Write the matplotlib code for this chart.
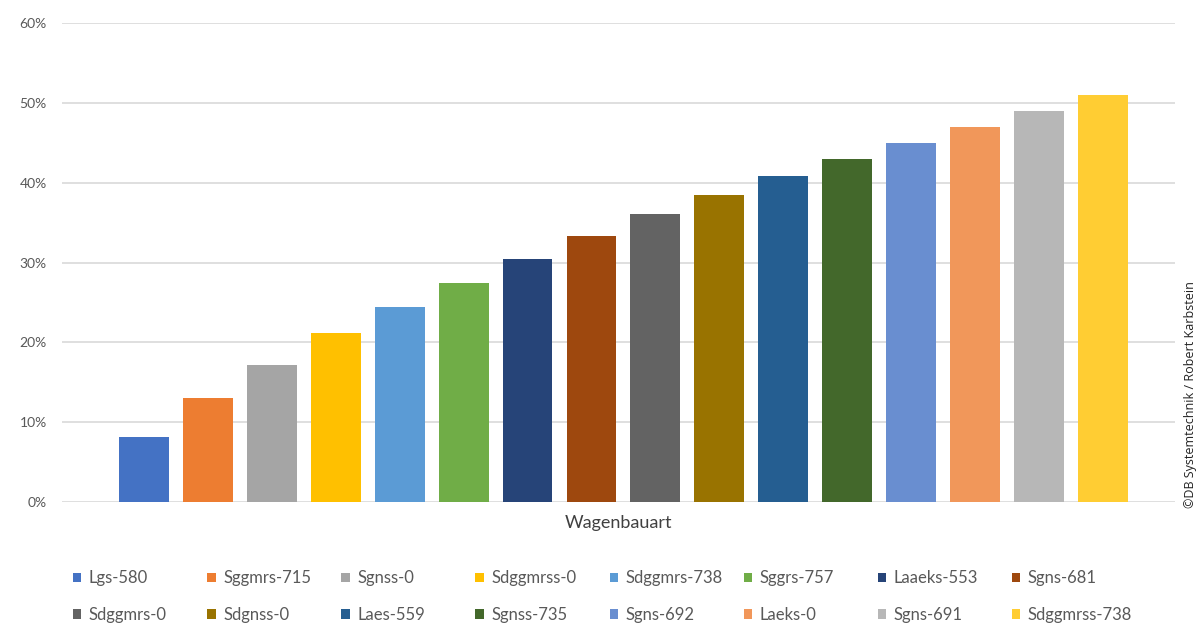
import matplotlib.pyplot as plt
from matplotlib.patches import Patch
from matplotlib.ticker import PercentFormatter

plt.rcParams['font.family'] = ['Lato', 'DejaVu Sans']

# wagon types, ordered by share
wagon_types = ['Lgs-580', 'Sggmrs-715', 'Sgnss-0', 'Sdggmrss-0', 'Sdggmrs-738', 'Sggrs-757',
               'Laaeks-553', 'Sgns-681', 'Sdggmrs-0', 'Sdgnss-0', 'Laes-559', 'Sgnss-735',
               'Sgns-692', 'Laeks-0', 'Sgns-691', 'Sdggmrss-738']
shares = [8.2, 13.0, 17.2, 21.2, 24.5, 27.5, 30.5, 33.3, 36.1, 38.5, 40.9, 43.0,
          45.0, 47.0, 49.0, 51.0]
bar_colors = ['#4472C4', '#ED7D31', '#A5A5A5', '#FFC000', '#5B9BD5', '#70AD47',
              '#264478', '#9E480E', '#636363', '#997300', '#255E91', '#43682B',
              '#698ED0', '#F1975A', '#B7B7B7', '#FFCD33']
y_ticks = [0, 10, 20, 30, 40, 50, 60]

fig = plt.figure(figsize=(12.01, 6.26), dpi=100)
ax = fig.add_axes([0.0516, 0.198, 0.927, 0.765])

positions = list(range(len(wagon_types)))
ax.bar(positions, shares, width=0.78, color=bar_colors, zorder=2)

ax.set_xlim(-1.28, 16.13)
ax.set_ylim(0, 60)
ax.set_yticks(y_ticks)
ax.yaxis.set_major_formatter(PercentFormatter(decimals=0))
ax.set_xticks([])
ax.tick_params(axis='y', length=0, pad=11, labelsize=10, labelcolor='#595959')
ax.grid(axis='y', color='#D9D9D9', linewidth=1.2, zorder=0)
for s in ax.spines.values():
    s.set_visible(False)

ax.set_xlabel('Wagenbauart', fontsize=13, color='#404040', labelpad=9)

# legend: 8 columns, two rows, fixed column spacing
handles = [Patch(facecolor=c, label=n) for c, n in zip(bar_colors, wagon_types)]
col_x = 0.0608
for c in range(8):
    leg = fig.legend(handles=[handles[c], handles[c + 8]], loc='upper left',
                     bbox_to_anchor=(col_x + c * 0.1117, 0.089), frameon=False,
                     fontsize=12, handlelength=0.5, handleheight=0.5,
                     handletextpad=0.45, labelspacing=1.25, borderaxespad=0, borderpad=0)
    for t in leg.get_texts():
        t.set_color('#595959')

fig.text(0.991, 0.369, '\u00a9DB Systemtechnik / Robert Karbstein', rotation=90,
         ha='center', va='center', fontsize=9, color='#222222', family=['Open Sans', 'DejaVu Sans'])

fig.savefig('out.png', dpi=100)
